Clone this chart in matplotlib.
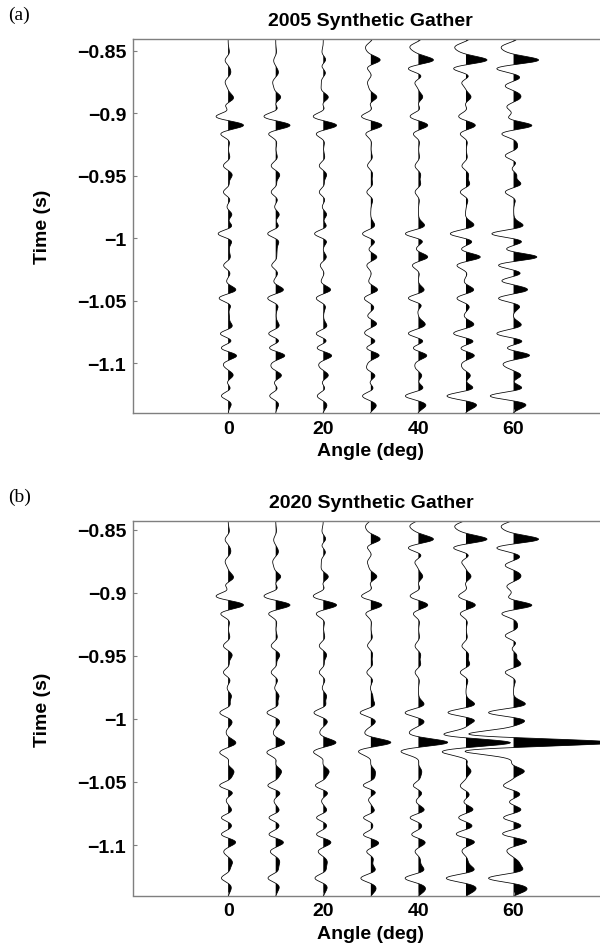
import numpy as np
import matplotlib
matplotlib.use("Agg")
import matplotlib.pyplot as plt

nan = np.nan

# Incidence angles of the traces (deg)
angles = [0, 10, 20, 30, 40, 50, 60]

# Picked event times (s) and trace amplitudes at those times, one column per angle.
# Shallow section, identical for both vintages.
upper_times = [-0.8465, -0.8576, -0.8646, -0.8673, -0.8726, -0.8752, -0.8780, -0.8872,
               -0.8950, -0.9024, -0.9099, -0.9165, -0.9280, -0.9340, -0.9418, -0.9498,
               -0.9565, -0.9631]
upper_amps = [
    [nan, nan, nan, -5.0, -8.3, -10.7, -11.7],
    [-3.0, -2.0, 2.3, 9.3, 15.0, 21.0, 25.0],
    [nan, nan, nan, -3.3, -10.0, -12.3, -16.7],
    [2.7, 2.7, 2.0, nan, nan, nan, nan],
    [nan, nan, nan, nan, nan, nan, 5.0],
    [-3.0, -3.0, -2.0, -3.3, -3.3, -4.0, nan],
    [nan, nan, nan, nan, nan, nan, -8.3],
    [5.3, 5.0, 5.0, 6.0, 4.3, 5.0, 7.3],
    [-2.3, nan, nan, nan, nan, nan, -6.7],
    [-12.0, -11.7, -10.0, -9.3, -8.3, -7.3, nan],
    [15.3, 14.3, 13.3, 11.0, 9.3, 9.3, 18.3],
    [-7.3, -7.0, -7.0, -5.0, -5.0, -5.7, -11.7],
    [nan, nan, nan, nan, nan, nan, 3.3],
    [nan, nan, nan, nan, nan, nan, -8.3],
    [-4.7, -4.5, -4.0, -3.3, -3.3, -4.0, nan],
    [4.0, 4.0, 3.3, 1.7, 2.3, 2.7, 3.3],
    [nan, nan, nan, nan, 2.3, 3.7, 7.3],
    [-4.7, -4.5, -4.0, -4.0, -3.3, -5.7, -8.3],
]

# Reservoir section, 2005 vintage
deep_times_2005 = [-0.9810, -0.9880, -0.9964, -1.0038, -1.0150, -1.0217, -1.0340, -1.0411,
                   -1.0480, -1.0563, -1.0683, -1.0763, -1.0824, -1.0880, -1.0936, -1.1000,
                   -1.1096, -1.1260, -1.1348]
deep_amps_2005 = [
    [3.7, 3.5, 3.3, nan, nan, nan, nan],
    [nan, nan, nan, 3.3, 5.0, 7.0, 7.7],
    [-10.0, -8.0, -8.7, -8.3, -13.0, -15.7, -21.7],
    [3.3, 3.0, 3.0, 3.3, 3.3, 5.0, 6.7],
    [nan, 1.0, 3.0, 6.0, 9.3, 14.3, 23.3],
    [-4.5, -4.0, -3.0, -4.0, -6.0, -9.0, -15.0],
    [nan, nan, nan, nan, nan, nan, -11.7],
    [7.7, 7.7, 7.3, 6.7, 5.7, 7.7, 14.0],
    [-9.0, -8.0, -7.0, -6.5, -10.0, -9.0, -15.0],
    [1.7, 2.0, 2.0, 2.7, 1.0, 2.7, 5.0],
    [3.3, 3.0, 3.0, 5.7, 6.7, 7.7, 7.3],
    [-7.7, -7.0, -7.0, -6.0, -10.0, -12.3, -16.7],
    [2.7, 2.7, 2.7, 4.0, 4.3, 7.0, 8.3],
    [-6.7, -6.0, -6.0, -4.0, -5.0, -5.0, -6.0],
    [8.3, 9.0, 8.3, 8.3, 8.3, 8.3, 16.0],
    [-4.3, -4.0, -4.0, -3.0, -3.0, -4.0, -10.0],
    [5.0, 5.7, 5.0, 4.0, 3.3, 4.3, 7.3],
    [-6.7, -6.0, -6.0, -8.3, -13.0, -19.0, -23.3],
    [2.3, 2.3, 3.3, 5.0, 6.7, 9.3, 10.7],
]

# Reservoir section, 2020 vintage
deep_times_2020 = [-0.9817, -0.9870, -0.9950, -1.0049, -1.0129, -1.0187, -1.0270, -1.0413,
                   -1.0532, -1.0611, -1.0660, -1.0717, -1.0783, -1.0849, -1.0915, -1.0968,
                   -1.1048, -1.1140, -1.1262, -1.1365]
deep_amps_2020 = [
    [3.3, 3.3, 3.3, 2.0, nan, nan, nan],
    [nan, nan, nan, nan, 5.0, 7.7, 10.7],
    [-8.3, -8.7, -9.3, -10.7, -13.3, -18.0, -25.0],
    [2.7, 2.3, 2.0, 1.7, 2.3, 2.7, 3.3],
    [-1.0, -1.5, -2.0, -4.0, -6.0, -20.7, -40.0],
    [7.7, 9.0, 12.7, 20.0, 29.3, 44.3, 100.0],
    [-8.3, -8.7, -9.3, -11.3, -15.7, -22.3, -43.0],
    [5.7, 5.7, 5.7, 4.3, 3.3, 5.0, 10.7],
    [-8.3, -7.7, -7.7, -7.3, -5.0, -5.7, -10.0],
    [1.7, 2.3, 2.3, 1.0, 1.7, 2.7, 5.0],
    [-1.5, -1.5, -1.5, -1.5, -2.0, -2.0, -4.0],
    [3.3, 3.3, 3.3, 3.3, 5.7, 7.0, 7.3],
    [-6.7, -6.7, -6.7, -7.3, -8.3, -7.3, -10.0],
    [3.3, 3.3, 3.3, 2.0, 3.3, 6.0, 7.3],
    [-6.7, -6.7, -6.7, -7.3, -6.7, -9.7, -10.7],
    [6.7, 6.7, 6.7, 6.0, 5.7, 7.7, 12.7],
    [-4.3, -5.3, -5.0, -4.0, -3.3, -4.0, -6.7],
    [4.3, 4.0, 4.0, 2.0, 2.3, 2.7, 6.0],
    [-6.7, -7.7, -8.3, -10.0, -13.3, -19.7, -25.0],
    [2.3, 2.3, 2.7, 4.3, 6.0, 8.3, 11.7],
]

titles = ["2005 Synthetic Gather", "2020 Synthetic Gather"]
panel_tags = ["(a)", "(b)"]
x_ticks = [0, 20, 40, 60]
y_ticks = [-1.1, -1.05, -1.0, -0.95, -0.9, -0.85]
y_tick_labels = ["\u22121.1", "\u22121.05", "\u22121", "\u22120.95", "\u22120.9", "\u22120.85"]

WAVELET_FREQ = 57.0   # Ricker dominant frequency (Hz)
TRACE_GAIN = 0.21     # amplitude unit -> degrees of horizontal deflection
DT = 0.0002
t_axis = np.arange(-1.17, -0.81, DT)


def ricker(t, f):
    a = (np.pi * f * t) ** 2
    return (1.0 - 2.0 * a) * np.exp(-a)


def synthetic_trace(times, amps):
    """Reflectivity at the picked times, chosen so the wavelet-convolved trace
    takes the picked amplitudes there; returns the trace on t_axis."""
    times = np.asarray(times, float)
    amps = np.asarray(amps, float)
    keep = ~np.isnan(amps)
    tp, ap = times[keep], amps[keep]
    w = ricker(tp[:, None] - tp[None, :], WAVELET_FREQ)
    refl = np.linalg.lstsq(w, ap, rcond=None)[0]
    return ricker(t_axis[:, None] - tp[None, :], WAVELET_FREQ) @ refl


def draw_gather(ax, deep_times, deep_amps):
    all_times = np.array(upper_times + deep_times)
    all_amps = np.array(upper_amps + deep_amps, float)
    for k, ang in enumerate(angles):
        tr = synthetic_trace(all_times, all_amps[:, k])
        x = ang + TRACE_GAIN * tr
        ax.fill_betweenx(t_axis, ang, x, where=x >= ang, interpolate=True,
                         color="black", linewidth=0)
        ax.plot(x, t_axis, color="black", linewidth=0.55)


plt.rcParams["font.family"] = ["Liberation Sans", "DejaVu Sans"]

fig = plt.figure(figsize=(6.0, 9.53), dpi=100)
W, H = 600.0, 953.0
left = 133 / W
width = 475.7 / W
axes_boxes = [
    [left, 1 - 414 / H, width, 374 / H],
    [left, 1 - 896.5 / H, width, 374.2 / H],
]
ylims = [(-1.1397, -0.8407), (-1.14, -0.8433)]
deep_sets = [(deep_times_2005, deep_amps_2005), (deep_times_2020, deep_amps_2020)]
tag_y = [15, 497]

spine_color = "#7f7f7f"
for i in range(2):
    ax = fig.add_axes(axes_boxes[i])
    draw_gather(ax, *deep_sets[i])
    ax.set_xlim(-20, 80)
    ax.set_ylim(*ylims[i])
    ax.set_xticks(x_ticks)
    ax.set_xticklabels([str(v) for v in x_ticks], fontsize=14, fontweight="bold")
    ax.set_yticks(y_ticks)
    ax.set_yticklabels(y_tick_labels, fontsize=14, fontweight="bold")
    ax.tick_params(axis="both", direction="in", length=3, width=0.8, color=spine_color)
    ax.tick_params(axis="y", pad=5)
    ax.tick_params(axis="x", pad=5)
    for side in ["left", "top", "bottom", "right"]:
        ax.spines[side].set_color(spine_color)
        ax.spines[side].set_linewidth(1.0)
    ax.set_title(titles[i], fontsize=14, fontweight="bold", pad=10)
    ax.set_xlabel("Angle (deg)", fontsize=14, fontweight="bold", labelpad=4)
    ax.set_ylabel("Time (s)", fontsize=14, fontweight="bold")
    ax.yaxis.set_label_coords((51 - 133) / 475.7, 0.5)
    fig.text(8 / W, 1 - tag_y[i] / H, panel_tags[i], fontsize=14,
             family="Liberation Serif", va="center", ha="left")

fig.savefig("out.png", dpi=100)
